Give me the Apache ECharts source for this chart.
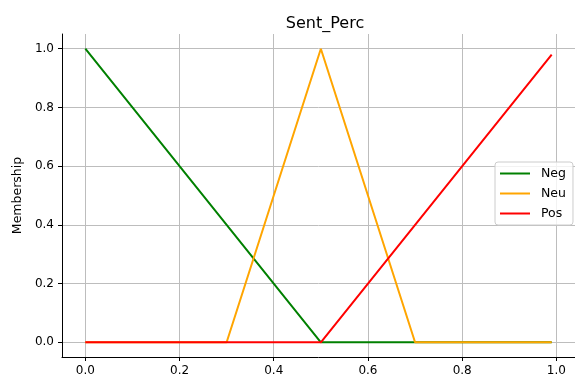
<!DOCTYPE html>
<html><head><meta charset="utf-8">
<script src="https://cdn.jsdelivr.net/npm/echarts@6/dist/echarts.min.js"></script>
<style>html,body{margin:0;padding:0;background:#fff}#c{width:575px;height:383px}</style>
</head><body><div id="c"></div>
<script>
const title = 'Sent_Perc';
const yLabel = 'Membership';
const seriesNames = ['Neg', 'Neu', 'Pos'];
const negPoints = [[0, 1], [0.5, 0], [0.99, 0]];
const neuPoints = [[0, 0], [0.3, 0], [0.5, 1], [0.7, 0], [0.99, 0]];
const posPoints = [[0, 0], [0.5, 0], [0.99, 0.98]];
const xTicks = [0, 0.2, 0.4, 0.6, 0.8, 1.0];
const yTicks = [0, 0.2, 0.4, 0.6, 0.8, 1.0];
const colors = ['#008000', '#ffa500', '#ff0000'];

const font = 'DejaVu Sans';
const chart = echarts.init(document.getElementById('c'), null, {renderer: 'canvas'});
const mk = (name, data, color) => ({
  name, type: 'line', data, symbol: 'none', showSymbol: false,
  lineStyle: {color, width: 2}, itemStyle: {color}, animation: false, z: 3
});
chart.setOption({
  animation: false,
  textStyle: {fontFamily: font},
  title: {text: title, left: 320, top: 11, textAlign: 'center',
    textStyle: {fontFamily: font, fontSize: 16, fontWeight: 'normal', color: '#000'}},
  grid: {left: 62, right: -4, top: 34, bottom: 26, containLabel: false},
  xAxis: {
    type: 'value', min: -0.0495, max: 1.0395,
    axisLine: {show: true, onZero: false, lineStyle: {color: '#000', width: 1}},
    axisTick: {show: true, customValues: xTicks, length: 4, lineStyle: {color: '#000'}},
    axisLabel: {customValues: xTicks, formatter: v => v.toFixed(1), color: '#000', fontSize: 12, fontFamily: font, margin: 8},
    splitLine: {show: true, lineStyle: {color: '#bdbdbd', width: 1}}
  },
  yAxis: {
    type: 'value', min: -0.05, max: 1.05,
    name: yLabel, nameLocation: 'middle', nameGap: 38,
    nameTextStyle: {color: '#000', fontSize: 12.5, fontFamily: font},
    axisLine: {show: true, onZero: false, lineStyle: {color: '#000', width: 1}},
    axisTick: {show: true, customValues: yTicks, length: 4, lineStyle: {color: '#000'}},
    axisLabel: {customValues: yTicks, formatter: v => v.toFixed(1), color: '#000', fontSize: 12, fontFamily: font, margin: 8},
    splitLine: {show: true, lineStyle: {color: '#bdbdbd', width: 1}}
  },
  legend: {
    orient: 'vertical', left: 495, top: 162,
    data: seriesNames,
    itemWidth: 30, itemHeight: 14, itemGap: 7,
    padding: [5, 7, 5, 4],
    itemStyle: {opacity: 0},
    backgroundColor: 'rgba(255,255,255,0.8)', borderColor: '#cccccc', borderWidth: 1, borderRadius: 3,
    textStyle: {color: '#000', fontSize: 12.5, fontFamily: font, padding: [0, 0, 0, 6]}
  },
  series: [
    mk(seriesNames[0], negPoints, colors[0]),
    mk(seriesNames[1], neuPoints, colors[1]),
    mk(seriesNames[2], posPoints, colors[2])
  ]
});
</script></body></html>
